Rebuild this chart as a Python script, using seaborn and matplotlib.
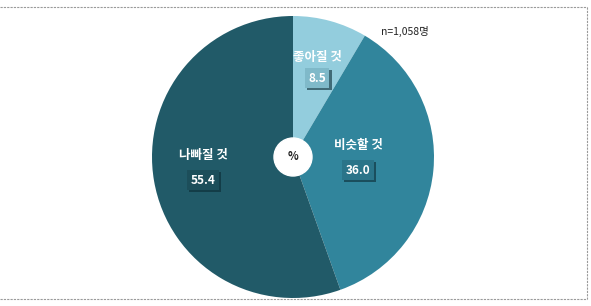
import matplotlib
matplotlib.use("Agg")
import matplotlib.pyplot as plt
import matplotlib.patheffects as pe
import seaborn as sns

categories = ["좋아질 것", "비슷할 것", "나빠질 것"]
values = [8.5, 36.0, 55.4]
value_labels = ["8.5", "36.0", "55.4"]
note = "n=1,058명"

sns.set_theme(style="white")
plt.rcParams['font.family'] = ['Noto Sans CJK KR', 'DejaVu Sans']

colors = ["#93CDDD", "#31859C", "#215A68"]
box_colors = ["#7fb9c9", "#2a7489", "#1c4e5a"]

W, H = 591, 306
fig = plt.figure(figsize=(W / 100, H / 100), dpi=100)
ax = fig.add_axes([0, 0, 1, 1])
ax.set_xlim(0, W)
ax.set_ylim(0, H)
ax.axis("off")

cx, cy, r = 293, H - 157, 141
ax.pie(values, colors=colors, startangle=90, counterclock=False,
       center=(cx, cy), radius=r, wedgeprops=dict(linewidth=0))
ax.set_xlim(0, W)
ax.set_ylim(0, H)
ax.set_aspect("auto")

# center hole
ax.add_patch(plt.Circle((cx, cy), 19, color="white", zorder=5))
ax.text(cx, cy, "%", ha="center", va="center", fontsize=8, fontweight="bold",
        color="#222222", zorder=6)

label_pos = [(317, 57), (358, 146), (203, 156)]
value_pos = [(317, 78), (358, 170), (203, 180)]
for cat, vl, (lx, ly), (vx, vy), bc in zip(categories, value_labels, label_pos, value_pos, box_colors):
    ax.text(lx, H - ly, cat, ha="center", va="center", fontsize=9,
            fontweight="bold", color="white", zorder=6)
    t = ax.text(vx, H - vy, vl, ha="center", va="center", fontsize=8.5,
                fontweight="bold", color="white", zorder=6,
                bbox=dict(boxstyle="square,pad=0.3", facecolor=bc, edgecolor="none"))
    t.get_bbox_patch().set_path_effects([pe.withSimplePatchShadow(offset=(1.5, -1.5), shadow_rgbFace="#0b2a33", alpha=0.6)])

ax.text(405, H - 31, note, ha="center", va="center", fontsize=7.5, color="#222222")

# dashed frame
frame = dict(color="#9a9a9a", linewidth=0.8, linestyle=(0, (2, 1)))
ax.plot([0, 587], [H - 7, H - 7], **frame)
ax.plot([0, 587], [H - 299, H - 299], **frame)
ax.plot([587, 587], [H - 7, H - 299], **frame)

fig.savefig("out.png", dpi=100)
